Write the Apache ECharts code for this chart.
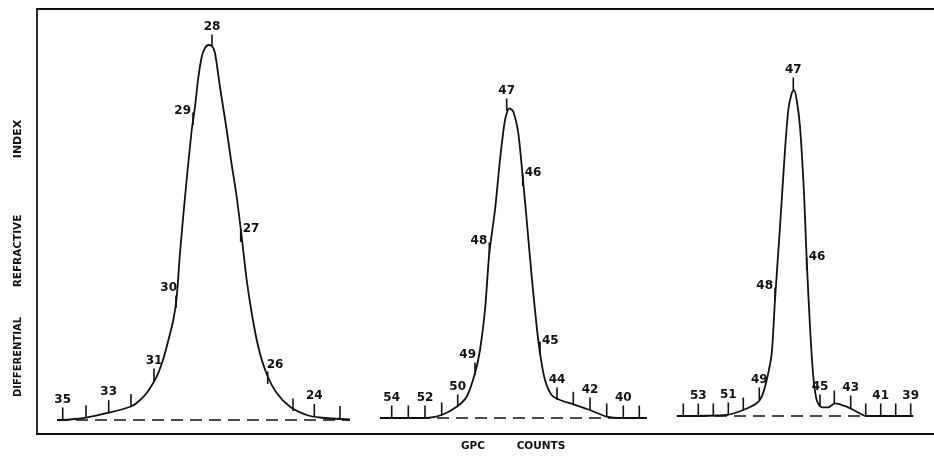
<!DOCTYPE html>
<html>
<head>
<meta charset="utf-8">
<script src="https://cdn.jsdelivr.net/npm/echarts@6/dist/echarts.min.js"></script>
<style>
html,body{margin:0;padding:0;background:#fff;}
#chart{width:934px;height:462px;}
</style>
</head>
<body>
<div id="chart"></div>
<script>
// x: chart-paper position (recorder trace), y: differential refractive index response
const peak1Curve = [[20,0],[33,0.5],[49,2.3],[71.7,7.3],[94,13.5],[102,19],[109.7,27],[115,35],[119.7,43.3],[125,57],[129.7,73.3],[136.3,100],[139.7,123],[143,167],[148,223],[154.7,290],[158,313],[161,340],[164.7,363],[168,372],[171.5,375],[175,374],[178,367],[183,333],[189.7,290],[194,260],[199.7,223],[204.7,183],[209.7,140],[214.7,107],[221.3,73],[229.7,46],[239.7,27],[253,13.3],[269.7,5],[283,2.5],[313,0.5]];
const peak2Curve = [[343,2],[389.7,2],[404.7,5],[419.7,13.3],[429.7,23.3],[438,46.7],[443,70],[448,110],[452.3,166.7],[458,210],[463,260],[468,300],[472.3,311.7],[476.3,308.3],[481.3,286.7],[485.7,243.3],[489.7,200],[494.7,143.3],[499.7,93.3],[503,66.7],[508,40],[514.7,25],[523,20],[536.3,15.7],[553,10],[569.7,3.3],[586,2],[609.7,2]];
const peak3Curve = [[639.7,4],[689.7,5],[706.3,10],[719.7,16.7],[724.7,23.3],[729.7,40],[734.7,66.7],[738,120],[743,193.3],[748,270],[751.3,310],[754.7,326.7],[757,330],[759.7,320],[763,293.3],[767,226.7],[769.7,160],[773,93.3],[776.3,43.3],[779.7,20],[784.7,12.7],[791.3,12.7],[798,16.7],[809.7,13.3],[819.7,8.3],[828.7,4],[876.3,4]];

const peak1Baseline = [[20,0],[313,0]];
const peak2Baseline = [[343,2],[610,2]];
const peak3Baseline = [[640,4],[876,4]];

// GPC count marks: [count, position, response at the mark]
const peak1Ticks = [[35,25.7,0],[34,49,2.3],[33,71.7,7.3],[32,94,13.5],[31,117,39],[30,139,112],[29,156,295],[28,175,373],[27,203.7,178],[26,230.7,36],[25,256,9],[24,277.3,3.5],[23,303,1.5]];
const peak2Ticks = [[54,354.7,2],[53,371.3,2],[52,388,2],[51,404.7,5],[50,420.7,13],[49,438,45],[48,452.3,165],[47,469.7,309],[46,485.7,234],[45,503,66],[44,520,20],[43,536.3,15.7],[42,553,10],[41,569.7,4],[40,586.3,2],[39,602.3,2]];
const peak3Ticks = [[54,646.3,4],[53,661.3,4],[52,676.3,4],[51,691.3,5],[50,706.3,10],[49,722.3,20],[48,738,120],[47,756.3,330],[46,769.7,150],[45,783,13],[44,797.3,17],[43,813.7,12],[42,828.7,4],[41,843.7,4],[40,858.7,4],[39,873.7,4]];

const peak1Labels = [35,33,31,30,29,28,27,26,24];
const peak2Labels = [54,52,50,49,48,47,46,45,44,42,40];
const peak3Labels = [53,51,49,48,47,46,45,43,41,39];

// label placement style per peak/count (default: above the mark)
const labelSide = {
  '1-30':'topleft','1-29':'left','1-27':'right','1-26':'topright',
  '2-49':'topleft','2-48':'left','2-46':'right','2-45':'right',
  '3-48':'left','3-46':'right'
};

const INK = '#111';
const TICK_LEN = 12.5;
const labelSets = [peak1Labels, peak2Labels, peak3Labels];

function tickData(ticks, peak) {
  return ticks.map(t => [t[1], t[2], t[0], peak]);
}

function renderTick(params, api) {
  const x = api.value(0), y = api.value(1), count = api.value(2), peak = api.value(3);
  const p0 = api.coord([x, y]);
  const p1 = api.coord([x, y + TICK_LEN]);
  const children = [{
    type: 'line',
    shape: {x1: p0[0], y1: p0[1], x2: p1[0], y2: p1[1]},
    style: {stroke: INK, lineWidth: 1.6}
  }];
  if (labelSets[peak - 1].indexOf(count) >= 0) {
    const side = labelSide[peak + '-' + count] || 'top';
    let tx = p1[0], ty = p1[1] - 8, align = 'center';
    if (side === 'left') { tx = p1[0] - 2; ty = p1[1] - 2; align = 'right'; }
    else if (side === 'topleft') { tx = p1[0] + 1; ty = p1[1] - 8; align = 'right'; }
    else if (side === 'right') { tx = p1[0] + 2; ty = p1[1] - 1; align = 'left'; }
    else if (side === 'topright') { tx = p1[0] - 1; ty = p1[1] - 7; align = 'left'; }
    children.push({
      type: 'text',
      style: {
        x: tx, y: ty, text: String(count), align: align, verticalAlign: 'middle',
        fill: INK, font: 'bold 12px "DejaVu Sans"'
      }
    });
  }
  return {type: 'group', children: children};
}

const chart = echarts.init(document.getElementById('chart'));

function curveSeries(data) {
  return {type: 'line', data: data, smooth: 0.25, symbol: 'none', silent: true,
    lineStyle: {color: INK, width: 1.8}, z: 3};
}
function baseSeries(data) {
  return {type: 'line', data: data, symbol: 'none', silent: true,
    lineStyle: {color: INK, width: 1.3, type: [12, 7]}, z: 2};
}
function tickSeries(ticks, peak) {
  return {type: 'custom', data: tickData(ticks, peak), renderItem: renderTick, silent: true, z: 4};
}

chart.setOption({
  animation: false,
  backgroundColor: '#fff',
  grid: {left: 37, right: 0, top: 9, bottom: 28},
  xAxis: [
    {type: 'value', min: 0, max: 897, position: 'bottom',
     axisLine: {show: true, onZero: false, lineStyle: {color: INK, width: 1.8}},
     axisTick: {show: false}, axisLabel: {show: false}, splitLine: {show: false}},
    {type: 'value', min: 0, max: 897, position: 'top',
     axisLine: {show: true, onZero: false, lineStyle: {color: INK, width: 1.8}},
     axisTick: {show: false}, axisLabel: {show: false}, splitLine: {show: false}}
  ],
  yAxis: {type: 'value', min: -14, max: 411,
    axisLine: {show: true, onZero: false, lineStyle: {color: INK, width: 1.8}},
    axisTick: {show: false}, axisLabel: {show: false}, splitLine: {show: false}},
  graphic: [
    {type: 'text', x: 18, y: 357, rotation: Math.PI / 2,
     style: {text: 'DIFFERENTIAL', align: 'center', verticalAlign: 'middle', fill: INK, font: 'bold 10px "DejaVu Sans"'}},
    {type: 'text', x: 18, y: 251, rotation: Math.PI / 2,
     style: {text: 'REFRACTIVE', align: 'center', verticalAlign: 'middle', fill: INK, font: 'bold 10.5px "DejaVu Sans"'}},
    {type: 'text', x: 18, y: 139, rotation: Math.PI / 2,
     style: {text: 'INDEX', align: 'center', verticalAlign: 'middle', fill: INK, font: 'bold 11px "DejaVu Sans"'}},
    {type: 'text', x: 473, y: 446,
     style: {text: 'GPC', align: 'center', verticalAlign: 'middle', fill: INK, font: 'bold 10.5px "DejaVu Sans"'}},
    {type: 'text', x: 541, y: 446,
     style: {text: 'COUNTS', align: 'center', verticalAlign: 'middle', fill: INK, font: 'bold 10.5px "DejaVu Sans"'}}
  ],
  series: [
    baseSeries(peak1Baseline), baseSeries(peak2Baseline), baseSeries(peak3Baseline),
    curveSeries(peak1Curve), curveSeries(peak2Curve), curveSeries(peak3Curve),
    tickSeries(peak1Ticks, 1), tickSeries(peak2Ticks, 2), tickSeries(peak3Ticks, 3)
  ]
});
</script>
</body>
</html>
